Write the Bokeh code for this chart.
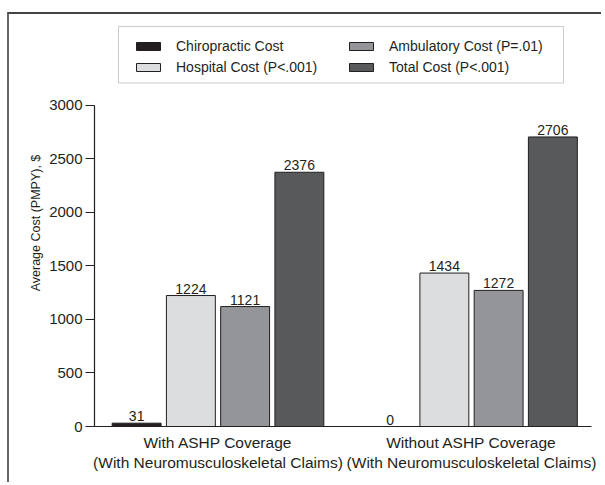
from bokeh.plotting import figure
from bokeh.models import (Range1d, FixedTicker, Legend, LegendItem, ColumnDataSource,
                          BoxAnnotation, Title)
from bokeh.core.properties import value
from bokeh.embed import file_html
from bokeh.resources import INLINE

# ---- data ----
groups = ["With ASHP Coverage\n(With Neuromusculoskeletal Claims)",
          "Without ASHP Coverage\n(With Neuromusculoskeletal Claims)"]
series = ["Chiropractic Cost", "Hospital Cost (P<.001)",
          "Ambulatory Cost (P=.01)", "Total Cost (P<.001)"]
chiropractic = [31, 0]
hospital = [1224, 1434]
ambulatory = [1121, 1272]
total = [2376, 2706]
y_ticks = [0, 500, 1000, 1500, 2000, 2500, 3000]
y_label = "Average Cost (PMPY), $"

values = [chiropractic, hospital, ambulatory, total]
colors = ["#231f20", "#dcdddf", "#939598", "#58595b"]
offsets = [-0.321, -0.107, 0.107, 0.321]
bar_w = 0.193
FONT = "Liberation Sans"

X0, X1 = -0.4872, 1.4734
Y0, Y1 = 0, 3803.7
FRAME_W, FRAME_H = 497, 407

p = figure(width=594, height=470, output_backend="svg", toolbar_location=None,
           x_range=Range1d(X0, X1), y_range=Range1d(Y0, Y1))
p.margin = (12, 0, 0, 7)
p.styles = {"border-top": "2px solid #444", "border-left": "2px solid #666"}
p.min_border = 0
p.min_border_left = 85
p.min_border_right = 12
p.min_border_top = 5
p.min_border_bottom = 58
p.outline_line_color = None
p.xgrid.visible = False
p.ygrid.visible = False

# legend frame (frame-relative pixel offsets converted to range units)
def fx(px):
    return X0 + px * (X1 - X0) / FRAME_W

def fy(px_from_top):
    return Y1 - px_from_top * (Y1 - Y0) / FRAME_H

box = BoxAnnotation(left=fx(24), right=fx(469), top=fy(7), bottom=fy(63.5),
                    fill_color="white", fill_alpha=1, line_color="#58595b",
                    line_width=1)
p.add_layout(box)

renderers = []
for name, vals, col, off in zip(series, values, colors, offsets):
    src = ColumnDataSource(dict(x=[i + off for i in range(len(groups))], top=vals,
                                lab=[str(v) for v in vals]))
    r = p.vbar(x="x", top="top", width=bar_w, source=src, fill_color=col,
               line_color="#231f20", line_width=1)
    p.text(x="x", y="top", text="lab", source=src, text_align="center",
           text_baseline="bottom", y_offset=-2, text_font=value(FONT),
           text_font_size="14px", text_color="#231f20")
    renderers.append(r)

def make_legend(idx, loc):
    lg = Legend(items=[LegendItem(label=series[i], renderers=[renderers[i]]) for i in idx],
                location=loc)
    lg.border_line_color = None
    lg.background_fill_alpha = 0
    lg.label_text_font = FONT
    lg.label_text_font_size = "14px"
    lg.label_text_color = "#231f20"
    lg.glyph_width = 30
    lg.glyph_height = 10
    lg.label_standoff = 13
    lg.label_height = 16
    lg.padding = 0
    lg.spacing = 5
    lg.margin = 0
    return lg

p.add_layout(make_legend([0, 1], (39, 351)))
p.add_layout(make_legend([2, 3], (252, 351)))

xa = p.xaxis[0]
xa.ticker = FixedTicker(ticks=list(range(len(groups))))
xa.major_label_overrides = {i: g for i, g in enumerate(groups)}
xa.major_tick_out = 0
xa.major_tick_in = 0
xa.minor_tick_out = 0
xa.minor_tick_in = 0
xa.major_label_standoff = 7
xa.major_label_text_font = FONT
xa.major_label_text_font_size = "15.5px"
xa.major_label_text_color = "#231f20"
xa.axis_line_color = "#231f20"
xa.axis_line_width = 1.2

ya = p.yaxis[0]
ya.ticker = FixedTicker(ticks=y_ticks)
ya.bounds = (0, 3000)
ya.major_tick_out = 9
ya.major_tick_in = 0
ya.minor_tick_out = 0
ya.minor_tick_in = 0
ya.major_label_standoff = 3
ya.major_label_text_font = FONT
ya.major_label_text_font_size = "15px"
ya.major_label_text_color = "#231f20"
ya.axis_line_color = "#231f20"
ya.axis_line_width = 1.2
ya.major_tick_line_color = "#231f20"

# y-axis title, centred on the 0-3000 span rather than the whole frame
ytitle = Title(text=y_label, align="center", offset=3, text_font=FONT,
               text_font_size="12.5px", text_font_style="normal",
               text_color="#231f20", standoff=8)
p.add_layout(ytitle, "left")

open("out.html", "w").write(file_html(p, INLINE))
